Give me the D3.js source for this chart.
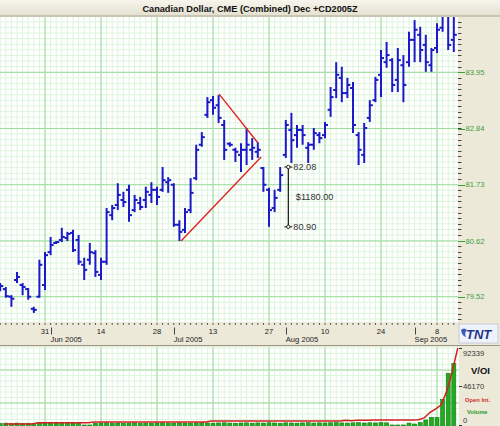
<!DOCTYPE html>
<html><head><meta charset="utf-8">
<script src="https://cdn.jsdelivr.net/npm/d3@7"></script>
<style>body{margin:0;background:#ECE9D8;}svg{display:block;}</style>
</head><body>
<svg id="c" width="500" height="426"></svg>
<script>
// ---------- DATA ----------
const dates = [
"2005-05-18","2005-05-19","2005-05-20","2005-05-23","2005-05-24","2005-05-25","2005-05-26","2005-05-27","2005-05-31",
"2005-06-01","2005-06-02","2005-06-03","2005-06-06","2005-06-07","2005-06-08","2005-06-09","2005-06-10","2005-06-13","2005-06-14","2005-06-15","2005-06-16","2005-06-17","2005-06-20","2005-06-21","2005-06-22","2005-06-23","2005-06-24","2005-06-27","2005-06-28","2005-06-29","2005-06-30",
"2005-07-01","2005-07-05","2005-07-06","2005-07-07","2005-07-08","2005-07-11","2005-07-12","2005-07-13","2005-07-14","2005-07-15","2005-07-18","2005-07-19","2005-07-20","2005-07-21","2005-07-22","2005-07-25","2005-07-26","2005-07-27","2005-07-28","2005-07-29",
"2005-08-01","2005-08-02","2005-08-03","2005-08-04","2005-08-05","2005-08-08","2005-08-09","2005-08-10","2005-08-11","2005-08-12","2005-08-15","2005-08-16","2005-08-17","2005-08-18","2005-08-19","2005-08-22","2005-08-23","2005-08-24","2005-08-25","2005-08-26","2005-08-29","2005-08-30","2005-08-31",
"2005-09-01","2005-09-02","2005-09-06","2005-09-07","2005-09-08","2005-09-09","2005-09-12","2005-09-13"];
const open = [79.69,79.67,79.52,79.85,79.75,79.67,79.28,79.52,79.75,
80.40,80.58,80.64,80.68,80.78,80.64,80.15,80.25,80.38,79.95,80.21,81.13,81.33,81.43,81.63,81.23,81.37,81.43,81.53,81.63,81.63,81.78,
81.73,80.94,80.84,81.23,81.86,82.52,83.11,83.40,83.30,82.91,82.54,82.42,82.32,82.42,82.42,82.38,82.06,81.63,81.27,81.63,
82.32,82.81,82.71,82.81,82.46,82.52,82.71,82.71,83.21,83.60,83.84,83.54,83.64,82.71,82.32,83.05,83.40,83.90,84.15,84.19,83.80,84.09,84.15,
84.59,84.69,84.49,84.09,84.43,84.83,85.08,84.59];
const high = [79.79,79.71,79.55,80.01,79.79,79.69,79.32,80.25,80.40,
80.70,80.62,80.88,80.80,80.84,80.74,80.29,80.58,80.44,80.29,81.27,81.33,81.76,81.59,81.73,81.53,81.49,81.69,81.78,81.69,82.08,81.88,
81.76,81.03,81.27,81.86,82.52,82.77,83.46,83.48,83.50,83.01,82.57,82.46,82.55,82.85,82.65,82.57,82.08,81.67,81.63,82.08,
83.01,83.15,82.91,82.91,82.57,82.85,82.77,82.97,83.66,84.15,84.06,83.84,83.76,82.77,82.95,83.40,83.86,84.39,84.55,84.23,84.43,84.29,84.75,
84.98,84.85,84.69,84.43,84.92,85.18,85.18,85.18];
const low = [79.63,79.50,79.32,79.79,79.55,79.46,79.20,79.50,79.65,
80.34,80.56,80.60,80.62,80.40,80.15,79.85,80.15,79.91,79.85,80.15,81.03,81.23,81.29,81.00,81.19,81.23,81.27,81.37,81.33,81.59,81.57,
80.90,80.62,80.78,81.17,81.82,82.48,83.05,83.11,82.95,82.22,82.48,82.18,81.98,82.12,82.22,82.26,81.59,80.90,81.19,81.59,
82.26,82.16,82.46,82.52,82.16,82.42,82.55,82.65,83.07,83.44,83.36,83.44,82.75,82.12,82.16,82.97,83.36,83.46,84.04,83.56,83.56,83.36,84.06,
84.15,84.15,83.96,83.96,84.33,84.75,84.39,84.35];
const close = [79.73,79.53,79.48,79.91,79.71,79.52,79.26,80.15,80.34,
80.54,80.60,80.70,80.76,80.44,80.21,80.05,80.40,80.01,80.21,81.19,81.27,81.53,81.39,81.13,81.43,81.29,81.59,81.63,81.49,81.82,81.82,
80.94,80.80,81.19,81.57,82.42,82.67,83.36,83.25,83.05,82.42,82.52,82.38,82.42,82.52,82.46,82.42,81.73,81.23,81.47,81.92,
82.91,82.61,82.81,82.71,82.52,82.75,82.65,82.91,83.46,83.90,83.54,83.70,82.91,82.42,82.85,83.30,83.80,84.23,84.29,83.70,84.19,83.70,84.59,
84.79,84.39,84.15,84.39,84.79,85.08,84.49,84.69];
const volume = [1800,2200,1900,2300,2000,2100,1700,2400,2200,
2000,2300,1900,2100,2400,2200,0,0,2000,2300,2600,2100,2400,2000,2200,2500,1900,2300,2100,2400,2600,2200,
2100,2500,2300,2000,2600,2800,2400,2200,2500,2700,2300,2100,2400,2600,2200,2500,2300,2700,2400,2100,
2600,2400,2200,2500,2800,2300,2600,2400,2700,2900,2500,2300,2600,2800,2400,2700,2500,2900,2600,0,0,0,2300,
1200,2800,6000,9200,9000,30800,62000,74000];
const openInt = [1200,1200,1200,1200,1200,1200,
2800,2800,2800,2800,2800,2800,2800,2800,2800,2800,
3600,3600,3600,3600,3600,3600,3600,3600,3600,3600,3600,3600,3600,3600,3600,3600,3600,3600,3600,3600,3600,
4800,4800,4800,4800,4800,4800,4800,4800,4800,4800,4800,4800,4800,4800,4800,4800,4800,4800,4800,4800,4800,4800,4800,4800,
5600,5200,5600,5600,5600,
6000,6000,6000,6000,6000,6000,6000,6000,
6400,8500,15000,19000,24000,40000,64000,92339];

const priceTicks = [79.52, 80.62, 81.73, 82.84, 83.95];
const dayTickDates = ["2005-05-31","2005-06-14","2005-06-28","2005-07-13","2005-07-27","2005-08-10","2005-08-24","2005-09-08"];
const dayTickLabels = ["31","14","28","13","27","10","24","8"];
const monthDates = ["2005-06-01","2005-07-01","2005-08-01","2005-09-01"];
const monthLabels = ["Jun 2005","Jul 2005","Aug 2005","Sep 2005"];
const volTicks = [0, 46170, 92339];
const volTickLabels = ["0","46170","92339"];

const title = "Canadian Dollar, CME (Combined) Dec +CD2005Z";
// trend lines: [start index, start price, end index, end price]
const trendLines = [[32.3, 80.62, 46.6, 82.28],[39.1, 83.52, 46.0, 82.56]];
const measureAt = 51.45, measureHi = 82.08, measureLo = 80.90, measureLabel = "$1180.00";

// ---------- LAYOUT ----------
const svg = d3.select("#c");
const P = {l:0, r:458, t:17, b:322};
const V = {l:0, r:459, t:347, b:426};
const idx = d => dates.indexOf(d);
const x = d3.scaleLinear().domain([0, dates.length-1]).range([0.2, 453.8]);
const y = d3.scaleLinear().domain([79.52, 83.95]).range([296.7, 72.3]);
const vy = d3.scaleLinear().domain([0, 92339]).range([425, 348]);
const minorStep = (83.95-79.52)/40;
const FONT = "'Liberation Sans', Arial, sans-serif";

const defs = svg.append("defs");
const g1 = defs.append("linearGradient").attr("id","tb").attr("x1",0).attr("y1",0).attr("x2",0).attr("y2",1);
g1.append("stop").attr("offset","0").attr("stop-color","#F7F5EC");
g1.append("stop").attr("offset","1").attr("stop-color","#E4E1D0");
defs.append("clipPath").attr("id","pc").append("rect").attr("x",P.l).attr("y",P.t).attr("width",P.r-P.l).attr("height",P.b-P.t);
defs.append("clipPath").attr("id","vc").append("rect").attr("x",V.l).attr("y",V.t).attr("width",V.r-V.l).attr("height",V.b-V.t);

svg.append("rect").attr("width",500).attr("height",426).attr("fill","#ECE9D8");
// title bar
svg.append("rect").attr("x",0).attr("y",0).attr("width",500).attr("height",15.5).attr("fill","url(#tb)");
svg.append("line").attr("x1",0).attr("x2",500).attr("y1",16).attr("y2",16).attr("stroke","#A8A490").attr("stroke-width",1);
svg.append("text").attr("x",250).attr("y",11.8).attr("text-anchor","middle")
  .attr("font-family",FONT).attr("font-weight","bold").attr("font-size",9.2).attr("fill","#111").text(title);

// ---------- MAIN PLOT ----------
svg.append("rect").attr("x",P.l).attr("y",P.t).attr("width",P.r-P.l).attr("height",P.b-P.t).attr("fill","#fff");
const gp = svg.append("g").attr("clip-path","url(#pc)");
const minorPrices = d3.range(-6, 50).map(k => 79.52 + k*minorStep);
const dayIdx = d3.range(-1, dates.length+2);
gp.selectAll(".mv").data(dayIdx).join("line").attr("x1",d=>x(d)).attr("x2",d=>x(d)).attr("y1",P.t).attr("y2",P.b)
  .attr("stroke","#DDF4DD").attr("stroke-width",1);
gp.selectAll(".mh").data(minorPrices).join("line").attr("y1",d=>y(d)).attr("y2",d=>y(d)).attr("x1",P.l).attr("x2",P.r)
  .attr("stroke","#DDF4DD").attr("stroke-width",1);
gp.selectAll(".Mv").data(dayTickDates).join("line").attr("x1",d=>x(idx(d))).attr("x2",d=>x(idx(d))).attr("y1",P.t).attr("y2",P.b)
  .attr("stroke","#9CDC9C").attr("stroke-width",1);
gp.selectAll(".Mh").data(priceTicks).join("line").attr("y1",d=>y(d)).attr("y2",d=>y(d)).attr("x1",P.l).attr("x2",P.r)
  .attr("stroke","#9CDC9C").attr("stroke-width",1);

// OHLC bars
const BAR = "#1A1AC8";
const bars = gp.selectAll(".bar").data(dates).join("g");
bars.append("line").attr("x1",(d,i)=>x(i)).attr("x2",(d,i)=>x(i)).attr("y1",(d,i)=>y(high[i])).attr("y2",(d,i)=>y(low[i]))
  .attr("stroke",BAR).attr("stroke-width",2);
bars.append("line").attr("x1",(d,i)=>x(i)-3).attr("x2",(d,i)=>x(i)).attr("y1",(d,i)=>y(open[i])).attr("y2",(d,i)=>y(open[i]))
  .attr("stroke",BAR).attr("stroke-width",2);
bars.append("line").attr("x1",(d,i)=>x(i)).attr("x2",(d,i)=>x(i)+3).attr("y1",(d,i)=>y(close[i])).attr("y2",(d,i)=>y(close[i]))
  .attr("stroke",BAR).attr("stroke-width",2);

// trend lines
gp.selectAll(".tl").data(trendLines).join("line")
  .attr("x1",d=>x(d[0])).attr("y1",d=>y(d[1])).attr("x2",d=>x(d[2])).attr("y2",d=>y(d[3]))
  .attr("stroke","#E02424").attr("stroke-width",1.4);

// measurement annotation
const mx = x(measureAt);
gp.append("line").attr("x1",mx).attr("x2",mx).attr("y1",y(measureHi)).attr("y2",y(measureLo)).attr("stroke","#111").attr("stroke-width",1.2);
[measureHi, measureLo].forEach(p=>{
  gp.append("line").attr("x1",mx-4).attr("x2",mx+4).attr("y1",y(p)).attr("y2",y(p)).attr("stroke","#111").attr("stroke-width",1);
  gp.append("circle").attr("cx",mx).attr("cy",y(p)).attr("r",1.7).attr("fill","#fff").attr("stroke","#111").attr("stroke-width",0.9);
  gp.append("text").attr("x",mx+5).attr("y",y(p)).attr("dy","0.36em").attr("font-family",FONT).attr("font-size",9.2)
    .attr("fill","#333").text(p.toFixed(2));
});
gp.append("text").attr("x",mx+7.5).attr("y",(y(measureHi)+y(measureLo))/2).attr("dy","0.36em").attr("font-family",FONT)
  .attr("font-size",9.2).attr("fill","#333").text(measureLabel);

// right price axis
const ra = svg.append("g");
ra.selectAll(".rt").data(minorPrices.filter(p=>y(p)>P.t+1 && y(p)<P.b)).join("line")
  .attr("x1",P.r).attr("x2",P.r+3.5).attr("y1",d=>Math.round(y(d))+0.5).attr("y2",d=>Math.round(y(d))+0.5)
  .attr("stroke","#444").attr("stroke-width",1);
ra.selectAll(".RT").data(priceTicks).join("line")
  .attr("x1",P.r).attr("x2",P.r+7).attr("y1",d=>Math.round(y(d))+0.5).attr("y2",d=>Math.round(y(d))+0.5)
  .attr("stroke","#3E9E3E").attr("stroke-width",1);
ra.selectAll(".RL").data(priceTicks).join("text")
  .attr("x",P.r+7.5).attr("y",d=>y(d)).attr("dy","0.36em").attr("font-family",FONT).attr("font-size",7.6)
  .attr("fill","#3E9E3E").text(d=>d.toFixed(2));

// bottom date axis
const ba = svg.append("g");
ba.selectAll(".bt").data(d3.range(0, dates.length)).join("line")
  .attr("x1",d=>x(d)).attr("x2",d=>x(d)).attr("y1",P.b+1).attr("y2",P.b+3).attr("stroke","#555").attr("stroke-width",1);
ba.selectAll(".BL").data(dayTickDates).join("text")
  .attr("x",d=>x(idx(d))).attr("y",334).attr("text-anchor","middle").attr("font-family",FONT).attr("font-size",7.6)
  .attr("fill","#222").text((d,i)=>dayTickLabels[i]);
ba.selectAll(".MT").data(monthDates).join("line")
  .attr("x1",d=>Math.round(x(idx(d)))+0.5).attr("x2",d=>Math.round(x(idx(d)))+0.5).attr("y1",327.5).attr("y2",334.5)
  .attr("stroke","#444").attr("stroke-width",1);
ba.selectAll(".ML").data(monthDates).join("text")
  .attr("x",d=>x(idx(d))).attr("y",341.8).attr("font-family",FONT).attr("font-size",7.6)
  .attr("fill","#222").text((d,i)=>monthLabels[i]);
svg.append("line").attr("x1",0).attr("x2",500).attr("y1",345.5).attr("y2",345.5).attr("stroke","#9A9786").attr("stroke-width",1);

// TNT logo
const lg = svg.append("g");
lg.append("rect").attr("x",459).attr("y",324).attr("width",39).attr("height",19).attr("fill","#EEF2FA").attr("stroke","#C8CCD8");
lg.append("text").attr("x",466).attr("y",339).attr("font-family",FONT).attr("font-weight","bold").attr("font-style","italic")
  .attr("font-size",13).attr("fill","#23378F").text("TNT");
lg.append("path").attr("d","M461,330 q3,-3 6,0 q-3,3 -1,7 q-4,-1 -5,-7z").attr("fill","#3D5BB5");

// ---------- VOLUME PANEL ----------
svg.append("rect").attr("x",V.l).attr("y",V.t).attr("width",V.r-V.l).attr("height",V.b-V.t).attr("fill","#fff");
const gv = svg.append("g").attr("clip-path","url(#vc)");
const vMinor = d3.range(0, 16).map(k => k*92339/14);
gv.selectAll(".vmv").data(dayIdx).join("line").attr("x1",d=>x(d)).attr("x2",d=>x(d)).attr("y1",V.t).attr("y2",V.b)
  .attr("stroke","#DDF4DD");
gv.selectAll(".vmh").data(vMinor).join("line").attr("y1",d=>vy(d)).attr("y2",d=>vy(d)).attr("x1",V.l).attr("x2",V.r)
  .attr("stroke","#DDF4DD");
gv.selectAll(".vMv").data(dayTickDates).join("line").attr("x1",d=>x(idx(d))).attr("x2",d=>x(idx(d))).attr("y1",V.t).attr("y2",V.b)
  .attr("stroke","#9CDC9C");
gv.selectAll(".vMh").data([92339*4/14, 92339*10/14]).join("line").attr("y1",d=>vy(d)).attr("y2",d=>vy(d)).attr("x1",V.l).attr("x2",V.r)
  .attr("stroke","#9CDC9C");
gv.selectAll(".vb").data(volume).join("rect")
  .attr("x",(d,i)=>x(i)-2).attr("width",4).attr("y",d=>vy(d)).attr("height",d=>vy(0)-vy(d)+2)
  .attr("fill","#22AA22").attr("stroke","#0D7A0D").attr("stroke-width",0.6);
gv.append("path").datum(openInt)
  .attr("d", d3.line().x((d,i)=>x(i)+4).y(d=>vy(d)))
  .attr("fill","none").attr("stroke","#D42020").attr("stroke-width",1.5);

// volume axis
const va = svg.append("g");
va.selectAll(".vt").data(volTicks).join("line")
  .attr("x1",V.r).attr("x2",V.r+3).attr("y1",d=>Math.round(vy(d))+0.5).attr("y2",d=>Math.round(vy(d))+0.5)
  .attr("stroke","#333");
va.selectAll(".vtl").data(volTicks).join("text")
  .attr("x",V.r+4).attr("y",(d,i)=>vy(d)+ (i===0?-4.5:(i===2?5:0))).attr("dy","0.36em").attr("font-family",FONT).attr("font-size",7.6)
  .attr("fill","#333").text((d,i)=>volTickLabels[i]);
va.append("text").attr("x",471).attr("y",374).attr("font-family",FONT).attr("font-weight","bold").attr("font-size",9.5)
  .attr("fill","#111").text("V/OI");
va.append("text").attr("x",465).attr("y",401.5).attr("font-family",FONT).attr("font-weight","bold").attr("font-size",5.8)
  .attr("fill","#D03030").text("Open Int.");
va.append("text").attr("x",467).attr("y",413.5).attr("font-family",FONT).attr("font-weight","bold").attr("font-size",5.8)
  .attr("fill","#2A9A2A").text("Volume");
</script>
</body></html>
